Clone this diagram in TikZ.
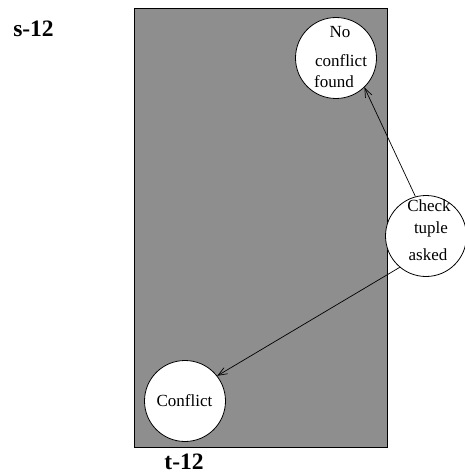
\documentclass[tikz,border=0pt]{standalone}
\usepackage{fontspec}
\setmainfont{Liberation Serif}
\usetikzlibrary{arrows.meta}
\definecolor{boxgray}{RGB}{142,142,142}
\tikzset{
  region/.style={draw=black, line width=0.8pt, fill=boxgray},
  state/.style={circle, draw=black, line width=0.8pt, fill=white, minimum size=81pt, inner sep=0pt},
  txt/.style={anchor=base, inner sep=0pt, font=\fontsize{17}{17}\selectfont},
  lbl/.style={anchor=base, inner sep=0pt, font=\fontsize{23.5}{23.5}\selectfont\bfseries},
  conn/.style={draw=black, line width=0.7pt, -{Straight Barb[length=9pt,width=7pt]}}
}
\begin{document}
\begin{tikzpicture}[x=1pt,y=-1pt]
\useasboundingbox (0,0) rectangle (464,476);
\path[region] (134,8) rectangle (387,447);
\node[state] (ncf) at (336,58) {};
\node[state] (chk) at (426,236) {};
\node[state] (cf) at (185,401) {};
\node[txt] (t1) at (340,38) {No};
\node[txt] (t2) at (341,67) {conflict};
\node[txt] (t3) at (334,88) {found};
\node[txt] (t4) at (429,211) {Check};
\node[txt] (t5) at (431,233) {tuple};
\node[txt] (t6) at (428,260) {asked};
\node[txt] (t7) at (184.5,406) {Conflict};
\node[lbl] (s) at (33.5,37) {s-12};
\node[lbl] (t) at (184,469) {t-12};
\draw[conn] (chk.105) -- (ncf.-46);
\draw[conn] (chk.230) -- (cf.38);
\end{tikzpicture}
\end{document}
